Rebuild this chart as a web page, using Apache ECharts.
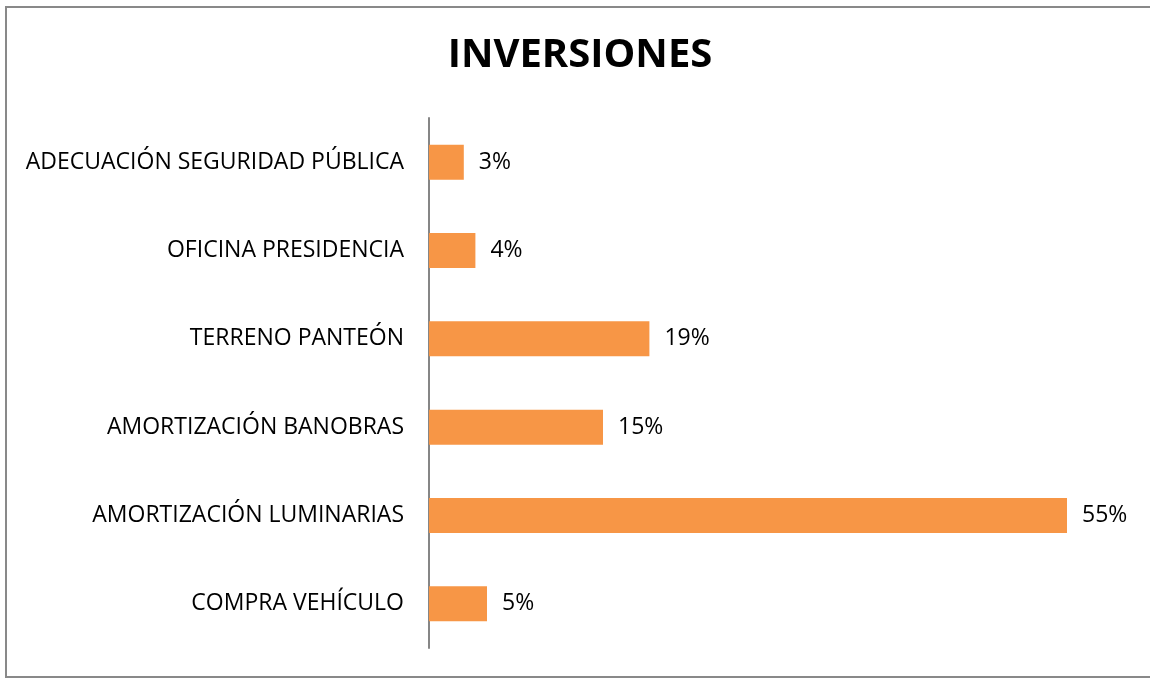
<!DOCTYPE html>
<html>
<head>
<meta charset="utf-8">
<script src="https://cdn.jsdelivr.net/npm/echarts@6/dist/echarts.min.js"></script>
<style>
  html, body { margin: 0; padding: 0; background: #ffffff; }
  #chart { width: 1150px; height: 678px; }
</style>
</head>
<body>
<div id="chart"></div>
<script>
// Investment items, listed bottom to top as they stack on the category axis
const categories = [
  'COMPRA VEHÍCULO',
  'AMORTIZACIÓN LUMINARIAS',
  'AMORTIZACIÓN BANOBRAS',
  'TERRENO PANTEÓN',
  'OFICINA PRESIDENCIA',
  'ADECUACIÓN SEGURIDAD PÚBLICA'
];
// Share of the total, in percent
const shares = [5, 55, 15, 19, 4, 3];

const chart = echarts.init(document.getElementById('chart'), null, { renderer: 'canvas' });

chart.setOption({
  backgroundColor: '#ffffff',
  animation: false,
  title: {
    text: 'INVERSIONES',
    left: 575,
    textAlign: 'center',
    top: 31,
    textStyle: {
      fontFamily: 'Open Sans',
      fontWeight: 'bold',
      fontSize: 40,
      color: '#000000'
    }
  },
  graphic: [{
    type: 'rect',
    shape: { x: 6, y: 7, width: 1160, height: 670 },
    style: { fill: 'none', stroke: '#898989', lineWidth: 2 },
    silent: true
  }],
  grid: { left: 429, top: 118, width: 638, height: 530 },
  xAxis: {
    type: 'value',
    min: 0,
    max: 55,
    show: false
  },
  yAxis: {
    type: 'category',
    data: categories,
    axisLine: { show: true, lineStyle: { color: '#868686', width: 2 } },
    axisTick: { show: false },
    axisLabel: {
      margin: 25,
      fontFamily: 'Open Sans',
      fontSize: 23,
      padding: [3, 0, 0, 0],
      color: '#000000'
    }
  },
  series: [{
    type: 'bar',
    data: shares,
    barWidth: 35,
    itemStyle: { color: '#F79646' },
    label: {
      show: true,
      position: 'right',
      distance: 15,
      formatter: '{c}%',
      fontFamily: 'Open Sans',
      fontSize: 23,
      padding: [3, 0, 0, 0],
      color: '#000000'
    }
  }]
});
</script>
</body>
</html>
